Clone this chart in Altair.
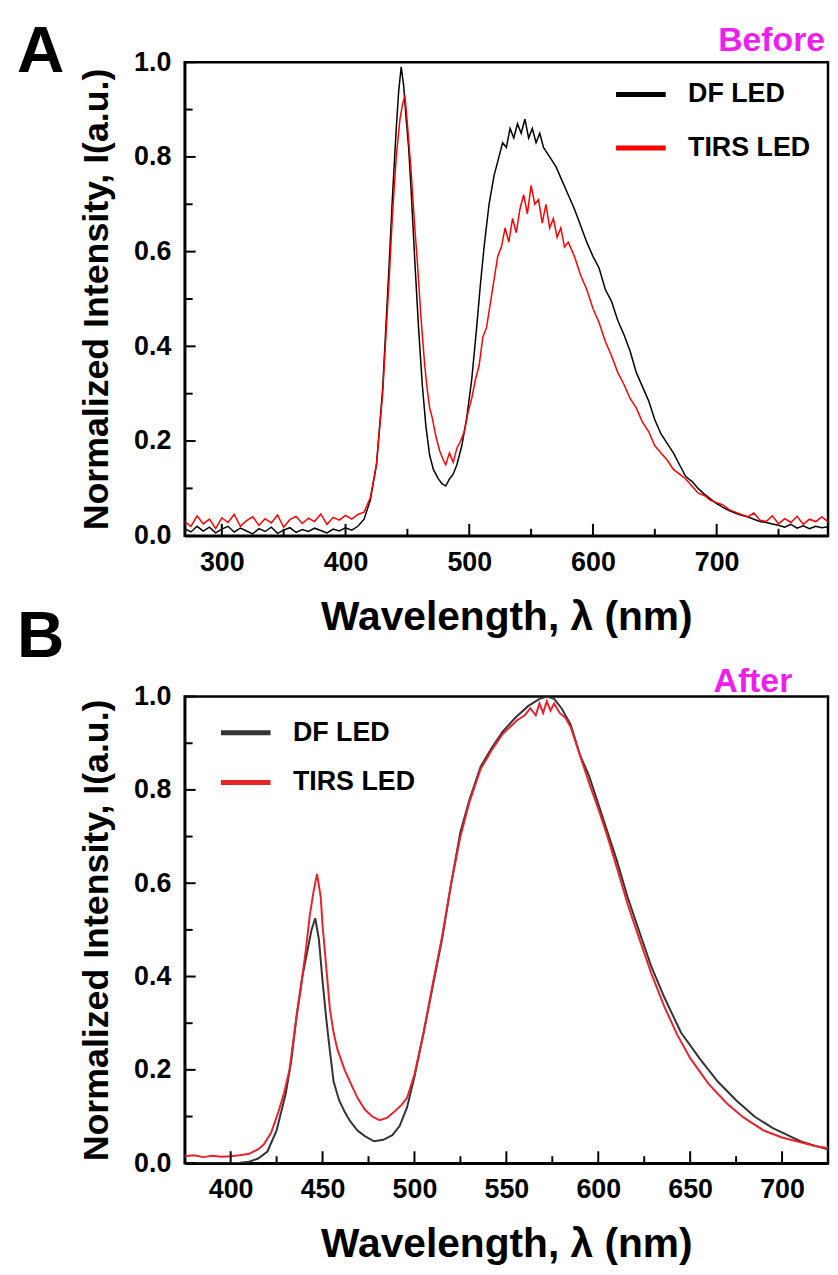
import altair as alt
import pandas as pd

FONT = "Liberation Sans, Arial, Helvetica, sans-serif"

# ---------------- data ----------------
series_names = ["DF LED", "TIRS LED"]
panel_letters = ["A", "B"]
state_labels = ["Before", "After"]
x_title = "Wavelength, \u03bb (nm)"
y_title = "Normalized Intensity, I(a.u.)"

# Panel A (Before)
a_df_wl = [270, 275, 280, 285, 290, 295, 300, 305, 310, 315, 320, 325, 330, 335, 340, 345, 350, 355, 360, 365,
           370, 375, 380, 385, 390, 395, 400, 405, 410,
           415, 420, 425, 430, 435, 438, 441, 443, 445, 447, 449, 451, 453, 456, 459, 462, 465, 468, 471, 475,
           478, 481, 484, 487, 490, 494, 498, 502, 506, 509, 512, 516, 520, 524, 527, 530, 533, 536, 539, 542,
           545, 548, 551, 554, 557, 560,
           565, 570, 575, 580, 585, 590, 595, 600, 605, 610, 615, 620, 625, 630, 635, 640, 645, 650, 655, 660,
           665, 670, 675, 680, 685, 690, 695, 700, 705, 710, 715, 720, 725, 730, 735, 740, 745, 750, 755, 760,
           765, 770, 775, 780, 785, 790]
a_df_int = [0.015, 0.008, 0.020, 0.010, 0.018, 0.006, 0.014, 0.020, 0.008, 0.016, 0.010, 0.004, 0.015, 0.009,
            0.018, 0.005, 0.012, 0.017, 0.007, 0.013, 0.009, 0.016, 0.011, 0.006, 0.014, 0.010, 0.017, 0.012, 0.020,
            0.035, 0.075, 0.15, 0.31, 0.56, 0.72, 0.86, 0.94, 0.99, 0.95, 0.88, 0.82, 0.73, 0.58, 0.44, 0.32, 0.23,
            0.17, 0.14, 0.12, 0.11, 0.105, 0.12, 0.13, 0.15, 0.19, 0.25, 0.33, 0.44, 0.53, 0.61, 0.70, 0.76, 0.80,
            0.83, 0.82, 0.86, 0.84, 0.87, 0.85, 0.88, 0.84, 0.86, 0.83, 0.85, 0.82,
            0.80, 0.78, 0.75, 0.72, 0.69, 0.655, 0.62, 0.59, 0.565, 0.52, 0.495, 0.455, 0.425, 0.39, 0.345, 0.315,
            0.285, 0.245, 0.215, 0.195, 0.175, 0.15, 0.125, 0.115, 0.10, 0.088, 0.078, 0.068, 0.06, 0.053, 0.048,
            0.043, 0.04, 0.035, 0.03, 0.028, 0.025, 0.022, 0.018, 0.024, 0.016, 0.021, 0.015, 0.02, 0.017, 0.019]

a_tirs_wl = [270, 275, 280, 285, 290, 295, 300, 305, 310, 315, 320, 325, 330, 335, 340, 345, 350, 355, 360, 365,
             370, 375, 380, 385, 390, 395, 400, 405, 410,
             415, 420, 425, 430, 435, 438, 441, 444, 446, 448, 450, 453, 456, 458, 461, 464, 466, 468, 470, 473,
             476, 479, 481, 484, 487, 490, 493, 496, 499, 502, 505, 508, 511, 514, 517, 520, 523, 526, 529, 532,
             535, 538, 541, 544, 547, 550, 553, 556, 559, 562, 565, 568, 571, 574, 577, 580,
             585, 590, 595, 600, 605, 610, 615, 620, 625, 630, 635, 640, 645, 650, 655, 660, 665, 670, 675, 680,
             685, 690, 695, 700, 705, 710, 715, 720, 725, 730, 735, 740, 745, 750, 755, 760, 765, 770, 775, 780,
             785, 790]
a_tirs_int = [0.030, 0.020, 0.042, 0.025, 0.035, 0.015, 0.038, 0.028, 0.045, 0.020, 0.032, 0.040, 0.022, 0.036,
              0.027, 0.044, 0.018, 0.034, 0.041, 0.026, 0.037, 0.030, 0.046, 0.024, 0.039, 0.033, 0.043, 0.035, 0.045,
              0.05, 0.08, 0.15, 0.30, 0.53, 0.68, 0.80, 0.88, 0.91, 0.93, 0.87, 0.77, 0.65, 0.58, 0.46, 0.36, 0.31,
              0.27, 0.25, 0.21, 0.18, 0.16, 0.15, 0.175, 0.155, 0.185, 0.20, 0.22, 0.26, 0.29, 0.33, 0.36, 0.42,
              0.44, 0.49, 0.54, 0.59, 0.61, 0.65, 0.62, 0.67, 0.64, 0.69, 0.72, 0.68, 0.74, 0.70, 0.71, 0.66, 0.70,
              0.65, 0.67, 0.63, 0.65, 0.61, 0.62,
              0.59, 0.55, 0.52, 0.48, 0.45, 0.41, 0.38, 0.345, 0.32, 0.29, 0.27, 0.24, 0.22, 0.19, 0.175, 0.16,
              0.14, 0.13, 0.12, 0.105, 0.09, 0.085, 0.075, 0.07, 0.065, 0.055, 0.05, 0.045, 0.04, 0.048, 0.033,
              0.03, 0.042, 0.025, 0.036, 0.028, 0.041, 0.024, 0.035, 0.03, 0.04, 0.03]

# Panel B (After)
b_df_wl = [375, 380, 385, 390, 395, 400, 405, 410, 415, 420, 425, 430, 433, 436, 439, 442, 444, 446, 448, 450,
           452, 454, 456, 459, 462, 465, 469, 473, 478, 483, 488, 492, 496, 500, 505, 510, 515, 520, 525, 530,
           536, 542, 548, 555, 562, 568, 572, 576, 580, 585, 590, 595, 600, 605, 610, 616, 622, 629, 636, 645,
           655, 665, 675, 685, 695, 703, 710, 718, 725]
b_df_int = [0.0, 0.0, 0.0, 0.0, 0.0, 0.0, 0.001, 0.003, 0.01, 0.025, 0.07, 0.15, 0.22, 0.32, 0.40, 0.46, 0.50,
            0.525, 0.48, 0.39, 0.31, 0.24, 0.175, 0.135, 0.11, 0.09, 0.07, 0.058, 0.047, 0.05, 0.06, 0.08, 0.12,
            0.185, 0.28, 0.38, 0.48, 0.60, 0.71, 0.78, 0.85, 0.89, 0.925, 0.955, 0.98, 0.995, 1.0, 0.995, 0.975,
            0.94, 0.875, 0.83, 0.77, 0.71, 0.65, 0.57, 0.50, 0.42, 0.355, 0.28, 0.225, 0.175, 0.135, 0.10, 0.075,
            0.06, 0.047, 0.037, 0.03]

b_tirs_wl = [375, 380, 385, 390, 395, 400, 405, 410, 415, 418, 422, 426, 429, 432, 435, 438, 441, 443, 445, 447,
             449, 450, 452, 454, 456, 458, 462, 466, 469, 473, 477, 481, 485, 489, 493, 496, 500, 505, 510, 515,
             520, 525, 530, 536, 542, 548, 552, 556, 560, 563, 566, 568, 570, 572, 574, 576, 579, 582, 585, 590,
             595, 600, 605, 610, 616, 622, 629, 636, 643, 650, 660, 670, 679, 690, 700, 710, 718, 725]
b_tirs_int = [0.015, 0.017, 0.013, 0.016, 0.014, 0.015, 0.017, 0.02, 0.03, 0.04, 0.065, 0.11, 0.15, 0.20, 0.29,
              0.37, 0.46, 0.53, 0.58, 0.62, 0.57, 0.51, 0.42, 0.33, 0.28, 0.245, 0.20, 0.165, 0.14, 0.115, 0.10,
              0.092, 0.097, 0.11, 0.125, 0.14, 0.19, 0.28, 0.385, 0.485, 0.60, 0.70, 0.775, 0.845, 0.885, 0.92,
              0.935, 0.95, 0.96, 0.975, 0.96, 0.985, 0.965, 0.99, 0.97, 0.985, 0.965, 0.955, 0.935, 0.875, 0.815,
              0.76, 0.70, 0.635, 0.555, 0.485, 0.405, 0.335, 0.275, 0.225, 0.17, 0.128, 0.098, 0.07, 0.055, 0.045,
              0.037, 0.032]

# axis ticks / labels
a_x_domain = [270, 790]
a_x_major = [300, 400, 500, 600, 700]
a_x_minor = [350, 450, 550, 650, 750]
b_x_domain = [375, 725]
b_x_major = [400, 450, 500, 550, 600, 650, 700]
b_x_minor = [425, 475, 525, 575, 625, 675]
y_major = [0.0, 0.2, 0.4, 0.6, 0.8, 1.0]
y_minor = [0.1, 0.3, 0.5, 0.7, 0.9]


def make_df(wl1, i1, wl2, i2):
    d1 = pd.DataFrame({"wl": wl1, "I": i1, "series": series_names[0]})
    d2 = pd.DataFrame({"wl": wl2, "I": i2, "series": series_names[1]})
    return pd.concat([d1, d2], ignore_index=True)


def panel(df, xdom, xmaj, xmin, W, H, colors, line_w, legend_xy, row_pad, letter, state, state_xy,
          letter_xy, xlab_pad, xtitle_pad):
    xs = alt.Scale(domain=xdom, nice=False, zero=False)
    ys = alt.Scale(domain=[0, 1.0], nice=False, zero=False)
    xaxis = alt.Axis(values=xmaj, ticks=False, grid=False, domainColor="black", domainWidth=2.5,
                     labelFont=FONT, labelFontSize=27, labelFontWeight="bold", labelColor="black",
                     labelPadding=xlab_pad, labelFlush=False, labelOverlap=False,
                     title=x_title, titleFont=FONT, titleFontSize=41, titleFontWeight="bold",
                     titleColor="black", titlePadding=xtitle_pad)
    yaxis = alt.Axis(values=y_major, format=".1f", ticks=False, grid=False, domainColor="black",
                     domainWidth=2.5, labelFont=FONT, labelFontSize=27, labelFontWeight="bold",
                     labelColor="black", labelPadding=14, labelFlush=False, labelOverlap=False,
                     title=y_title, titleFont=FONT, titleFontSize=36, titleFontWeight="bold",
                     titleColor="black", titlePadding=18)
    legend = alt.Legend(title=None, orient="none", legendX=legend_xy[0], legendY=legend_xy[1],
                        symbolType="stroke", symbolSize=2500, symbolStrokeWidth=5,
                        labelFont=FONT, labelFontSize=27, labelFontWeight="bold", labelColor="black",
                        labelOffset=20, rowPadding=row_pad, padding=0, direction="vertical")
    lines = alt.Chart(df).mark_line(strokeWidth=line_w, clip=True).encode(
        x=alt.X("wl:Q", scale=xs, axis=xaxis, title=x_title),
        y=alt.Y("I:Q", scale=ys, axis=yaxis, title=y_title),
        color=alt.Color("series:N", scale=alt.Scale(domain=series_names, range=colors), legend=legend),
    )
    xt_major = alt.Chart(pd.DataFrame({"v": xmaj})).mark_rule(color="black", strokeWidth=2).encode(
        x=alt.X("v:Q", scale=xs, axis=xaxis, title=x_title), y=alt.value(H), y2=alt.value(H - 12))
    xt_minor = alt.Chart(pd.DataFrame({"v": xmin})).mark_rule(color="black", strokeWidth=2).encode(
        x=alt.X("v:Q", scale=xs, axis=xaxis, title=x_title), y=alt.value(H), y2=alt.value(H - 7))
    yt_major = alt.Chart(pd.DataFrame({"v": y_major})).mark_rule(color="black", strokeWidth=2).encode(
        y=alt.Y("v:Q", scale=ys, axis=yaxis, title=y_title), x=alt.value(0), x2=alt.value(11))
    yt_minor = alt.Chart(pd.DataFrame({"v": y_minor})).mark_rule(color="black", strokeWidth=2).encode(
        y=alt.Y("v:Q", scale=ys, axis=yaxis, title=y_title), x=alt.value(0), x2=alt.value(8))
    let = alt.Chart(pd.DataFrame({"t": [letter]})).mark_text(
        align="left", baseline="alphabetic", font=FONT, fontSize=66, fontWeight="bold", color="black"
    ).encode(text="t:N", x=alt.value(letter_xy[0]), y=alt.value(letter_xy[1]))
    st = alt.Chart(pd.DataFrame({"t": [state]})).mark_text(
        align="right", baseline="alphabetic", font=FONT, fontSize=34, fontWeight="bold", color="#ee1fee"
    ).encode(text="t:N", x=alt.value(state_xy[0]), y=alt.value(state_xy[1]))
    return alt.layer(lines, xt_major, xt_minor, yt_major, yt_minor, let, st).properties(width=W, height=H)


dfA = make_df(a_df_wl, a_df_int, a_tirs_wl, a_tirs_int)
dfB = make_df(b_df_wl, b_df_int, b_tirs_wl, b_tirs_int)

WA, HA = 648, 477
WB, HB = 648, 470

pA = panel(dfA, a_x_domain, a_x_major, a_x_minor, WA, HA, ["#000000", "#ff0000"], 1.5,
           (432, 5), 13, panel_letters[0], state_labels[0], (645, -11), (-169, 10), 14, 22)
pB = panel(dfB, b_x_domain, b_x_major, b_x_minor, WB, HB, ["#333333", "#e8232b"], 2.0,
           (34, 9), 9, panel_letters[1], state_labels[1], (612, -5), (-169, -40), 14, 22)

chart = alt.vconcat(pA, pB, spacing=162, bounds="flush").resolve_scale(
    color="independent").resolve_legend(color="independent").properties(
    padding={"left": 7, "top": 5, "right": 0, "bottom": 0}, background="white"
).configure_view(stroke="black", strokeWidth=2.5)

chart.save("out.html", embed_options={"renderer": "svg", "actions": False})
